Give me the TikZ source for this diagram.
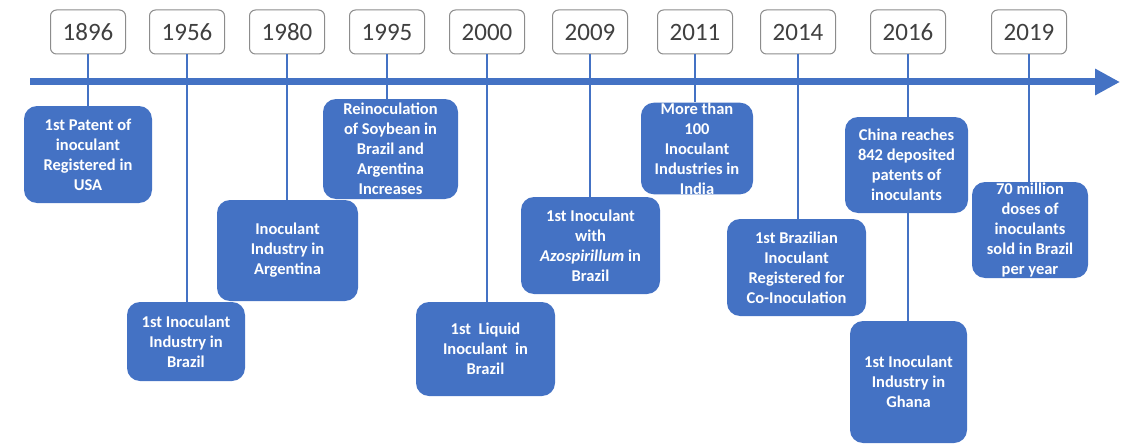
\documentclass[tikz,border=0pt]{standalone}
\usepackage{fontspec}
\setmainfont{Carlito}
\usetikzlibrary{arrows.meta}

\definecolor{tlblue}{HTML}{4472C4}
\definecolor{tlgray}{HTML}{8C8C8C}
\definecolor{tltext}{HTML}{404040}

\tikzset{
  yearbox/.style={draw=tlgray, line width=1pt, fill=white, rounded corners=6pt,
    minimum width=75pt, minimum height=44pt, inner sep=0pt, text=tltext,
    font=\fontsize{25}{30}\selectfont},
  eventbox/.style={fill=tlblue, rounded corners=13pt, text=white, align=center,
    inner sep=0pt, font=\bfseries\fontsize{16.5}{20}\selectfont},
  conn/.style={draw=tlblue, line width=2.5pt}
}

\begin{document}
\begin{tikzpicture}[x=1pt,y=-1pt]
\useasboundingbox (0,0) rectangle (1122,444);
%\draw[step=50,gray,very thin] (0,0) grid (1122,444);
\draw[tlblue, line width=7pt, -{Triangle[length=25pt,width=25pt]}] (30,82) -- (1120,82);
% years
\node[yearbox] (y1896) at (88,32) {1896};
\node[yearbox] (y1956) at (187,32) {1956};
\node[yearbox] (y1980) at (287,32) {1980};
\node[yearbox] (y1995) at (387,32) {1995};
\node[yearbox] (y2000) at (487,32) {2000};
\node[yearbox] (y2009) at (590,32) {2009};
\node[yearbox] (y2011) at (695,32) {2011};
\node[yearbox] (y2014) at (798,32) {2014};
\node[yearbox] (y2016) at (908,32) {2016};
\node[yearbox] (y2019) at (1029,32) {2019};
% events
\node[eventbox, minimum width=128pt, minimum height=97pt] (e1896) at (88,154.5) {1st Patent of\\inoculant\\Registered in\\USA};
\node[eventbox, minimum width=118pt, minimum height=79pt] (e1956) at (186,341.5) {1st Inoculant\\Industry in\\Brazil};
\node[eventbox, minimum width=141pt, minimum height=101pt] (e1980) at (287.5,250.5) {Inoculant\\Industry in\\Argentina};
\node[eventbox, minimum width=135pt, minimum height=100pt] (e1995) at (390.5,149) {Reinoculation\\of Soybean in\\Brazil and\\Argentina\\Increases};
\node[eventbox, minimum width=139pt, minimum height=94pt] (e2000) at (485.5,349) {1st\ \ Liquid\\Inoculant\ \ in\\Brazil};
\node[eventbox, minimum width=139pt, minimum height=97pt] (e2009) at (590.5,245.5) {1st Inoculant\\with\\\textit{Azospirillum} in\\Brazil};
\node[eventbox, minimum width=112pt, minimum height=91pt] (e2011) at (697,148.5) {More than\\100\\Inoculant\\Industries in\\India};
\node[eventbox, minimum width=139pt, minimum height=97pt] (e2014) at (796.5,267.5) {1st Brazilian\\Inoculant\\Registered for\\Co-Inoculation};
\node[eventbox, minimum width=123pt, minimum height=96pt] (e2016) at (906.5,165) {China reaches\\842 deposited\\patents of\\inoculants};
\node[eventbox, minimum width=117pt, minimum height=122pt] (e2016b) at (908.5,382) {1st Inoculant\\Industry in\\Ghana};
\node[eventbox, minimum width=116pt, minimum height=96pt] (e2019) at (1030,230) {70 million\\doses of\\inoculants\\sold in Brazil\\per year};
% links
\foreach \yr in {1896,1956,1980,1995,2000,2009,2011,2014,2016,2019}
  \draw[conn] (y\yr.south) -- (y\yr.south |- e\yr.north);
\draw[conn] (e2016.south -| y2016.south) -- (y2016.south |- e2016b.north);
\end{tikzpicture}
\end{document}
